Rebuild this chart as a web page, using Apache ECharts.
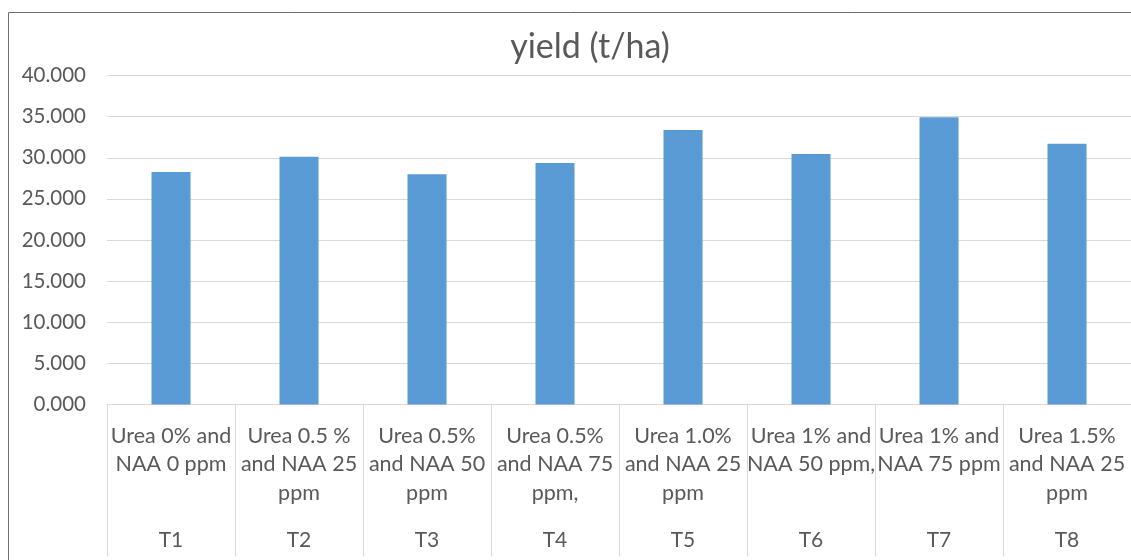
<!DOCTYPE html>
<html>
<head>
<meta charset="utf-8">
<script src="https://cdn.jsdelivr.net/npm/echarts@6/dist/echarts.min.js"></script>
<style>
  html, body { margin: 0; padding: 0; background: #fff; }
  #chart { width: 1131px; height: 560px; }
</style>
</head>
<body>
<div id="chart"></div>
<script>
// Treatment descriptions (inner axis level) and codes (outer axis level)
const treatments = [
  'Urea 0% and\nNAA 0 ppm',
  'Urea 0.5 %\nand NAA 25\nppm',
  'Urea 0.5%\nand NAA 50\nppm',
  'Urea 0.5%\nand NAA 75\nppm,',
  'Urea 1.0%\nand NAA 25\nppm',
  'Urea 1% and\nNAA 50 ppm,',
  'Urea 1% and\nNAA 75 ppm',
  'Urea 1.5%\nand NAA 25\nppm'
];
const codes = ['T1', 'T2', 'T3', 'T4', 'T5', 'T6', 'T7', 'T8'];
// Yield in t/ha
const yieldValues = [28.27, 30.13, 27.99, 29.36, 33.37, 30.46, 34.92, 31.71];

const FONT = 'Lato, "Open Sans", sans-serif';
const TEXT = '#595959';
const LINE = '#d9d9d9';

const chart = echarts.init(document.getElementById('chart'), null, { renderer: 'canvas' });
chart.setOption({
  backgroundColor: '#fff',
  animation: false,
  graphic: [{
    type: 'rect',
    shape: { x: 8.5, y: 12.5, width: 1200, height: 700 },
    style: { fill: 'none', stroke: '#6e6e6e', lineWidth: 1 },
    silent: true
  }, {
    type: 'text',
    x: 590, y: 47,
    style: {
      text: 'yield (t/ha)',
      fill: TEXT,
      font: '34px ' + FONT,
      textAlign: 'center',
      textVerticalAlign: 'middle'
    },
    silent: true
  }],
  grid: { left: 107, right: 0, top: 75.5, bottom: 155.5, containLabel: false },
  xAxis: [{
    type: 'category',
    data: treatments,
    axisLine: { show: true, lineStyle: { color: LINE, width: 1 } },
    axisTick: { show: true, length: 152, interval: 0, lineStyle: { color: LINE, width: 1 } },
    axisLabel: {
      interval: 0, margin: 17, fontFamily: FONT, fontSize: 21.5,
      color: TEXT, lineHeight: 28.5, align: 'center'
    },
    splitLine: { show: false }
  }, {
    type: 'category',
    data: codes,
    position: 'bottom',
    axisLine: { show: false },
    axisTick: { show: false },
    axisLabel: {
      interval: 0, margin: 124, fontFamily: FONT, fontSize: 21,
      color: TEXT, lineHeight: 24
    },
    splitLine: { show: false }
  }],
  yAxis: {
    type: 'value',
    min: 0, max: 40, interval: 5,
    axisLine: { show: false },
    axisTick: { show: false },
    axisLabel: {
      margin: 21, fontFamily: FONT, fontSize: 20.5, color: TEXT,
      formatter: v => v.toFixed(3)
    },
    splitLine: { lineStyle: { color: LINE, width: 1 } }
  },
  series: [{
    type: 'bar',
    xAxisIndex: 0,
    data: yieldValues,
    barWidth: 39,
    itemStyle: { color: '#5B9BD5' }
  }]
});
</script>
</body>
</html>
